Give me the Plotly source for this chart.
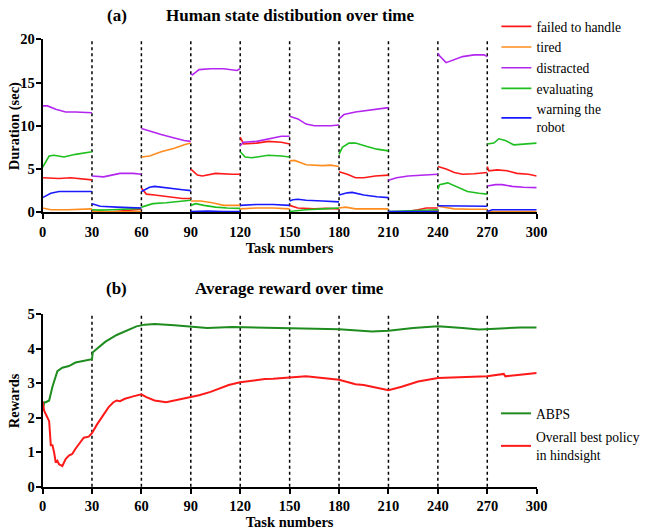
import plotly.graph_objects as go

# ---------------- data ----------------
phase_bounds = [30, 60, 90, 120, 150, 180, 210, 240, 270]
x_ticks = [0, 30, 60, 90, 120, 150, 180, 210, 240, 270, 300]
dur_ticks = [0, 5, 10, 15, 20]
reward_ticks = [0, 1, 2, 3, 4, 5]

# (a) Human state durations, one list of (task, seconds) per 30-task phase
failed_to_handle = [
    [(0, 4.0), (5, 3.95), (10, 3.9), (17, 4.0), (25, 3.8), (30, 3.75)],
    [(30, 0.15), (35, 0.05), (42, 0.05), (48, 0.15), (54, 0.3), (60, 0.35)],
    [(60, 2.8), (63, 2.1), (68, 2.0), (75, 1.8), (85, 1.6), (90, 1.6)],
    [(90, 5.0), (94, 4.3), (97, 4.2), (105, 4.5), (115, 4.4), (120, 4.4)],
    [(120, 8.7), (122, 7.9), (130, 8.0), (137, 8.2), (145, 8.1), (150, 7.9)],
    [(150, 0.8), (155, 0.5), (165, 0.4), (172, 0.45), (180, 0.4)],
    [(180, 4.7), (185, 4.4), (190, 4.0), (195, 4.0), (202, 4.2), (210, 4.3)],
    [(210, 0.05), (220, 0.05), (228, 0.3), (233, 0.5), (240, 0.5)],
    [(240, 5.3), (245, 5.0), (250, 4.6), (255, 4.4), (262, 4.45), (270, 4.6)],
    [(270, 5.3), (271, 4.8), (276, 4.9), (282, 4.8), (288, 4.5), (295, 4.4), (300, 4.2)],
]
tired = [
    [(0, 0.5), (5, 0.3), (15, 0.3), (25, 0.4), (30, 0.4)],
    [(30, 0.1), (40, 0.05), (50, 0.05), (60, 0.1)],
    [(60, 6.4), (65, 6.5), (72, 7.0), (80, 7.4), (86, 7.8), (90, 8.0)],
    [(90, 1.3), (96, 1.3), (103, 1.1), (110, 0.8), (120, 0.8)],
    [(120, 0.4), (130, 0.5), (140, 0.5), (150, 0.4)],
    [(150, 5.95), (153, 6.0), (160, 5.5), (170, 5.4), (175, 5.45), (180, 5.3)],
    [(180, 0.5), (184, 0.6), (190, 0.4), (200, 0.4), (210, 0.4)],
    [(210, 0.05), (225, 0.05), (235, 0.15), (240, 0.2)],
    [(240, 0.7), (250, 0.4), (260, 0.35), (270, 0.35)],
    [(270, 0.1), (285, 0.1), (300, 0.1)],
]
distracted = [
    [(0, 12.3), (3, 12.3), (8, 11.9), (14, 11.6), (20, 11.6), (30, 11.5)],
    [(30, 4.2), (37, 4.1), (42, 4.3), (47, 4.5), (55, 4.5), (60, 4.4)],
    [(60, 9.7), (65, 9.4), (72, 9.0), (80, 8.6), (86, 8.3), (90, 8.2)],
    [(90, 16.0), (91, 15.9), (95, 16.5), (102, 16.6), (110, 16.6), (118, 16.4), (120, 16.6)],
    [(120, 7.7), (122, 8.1), (130, 8.2), (138, 8.5), (145, 8.8), (150, 8.8)],
    [(150, 11.1), (155, 10.8), (160, 10.2), (165, 10.0), (175, 10.0), (180, 10.1)],
    [(180, 10.8), (183, 11.3), (190, 11.6), (197, 11.8), (205, 12.0), (210, 12.1)],
    [(210, 3.7), (215, 4.0), (222, 4.2), (230, 4.3), (240, 4.4)],
    [(240, 18.4), (241, 18.1), (245, 17.3), (248, 17.5), (255, 18.0), (262, 18.2), (268, 18.2), (270, 18.0)],
    [(270, 3.05), (275, 3.2), (279, 3.2), (285, 3.0), (292, 2.9), (300, 2.85)],
]
evaluating = [
    [(0, 5.2), (4, 6.5), (7, 6.6), (13, 6.4), (20, 6.7), (30, 7.0)],
    [(30, 0.3), (35, 0.25), (42, 0.3), (48, 0.35), (55, 0.4), (60, 0.45)],
    [(60, 0.6), (63, 0.8), (67, 1.0), (75, 1.1), (85, 1.3), (90, 1.4)],
    [(90, 0.8), (93, 1.0), (98, 0.8), (105, 0.6), (112, 0.5), (120, 0.45)],
    [(120, 7.0), (123, 6.4), (127, 6.3), (137, 6.6), (145, 6.5), (150, 6.4)],
    [(150, 0.1), (160, 0.3), (170, 0.4), (180, 0.5)],
    [(180, 6.7), (182, 7.5), (186, 8.0), (190, 8.0), (197, 7.6), (203, 7.3), (210, 7.1)],
    [(210, 0.1), (220, 0.15), (230, 0.2), (240, 0.3)],
    [(240, 2.65), (241, 3.2), (246, 3.4), (252, 2.9), (258, 2.4), (265, 2.2), (270, 2.1)],
    [(270, 7.9), (274, 8.0), (277, 8.5), (281, 8.3), (286, 7.8), (292, 7.9), (300, 8.0)],
]
warning_the_robot = [
    [(0, 1.7), (5, 2.2), (10, 2.4), (20, 2.4), (30, 2.4)],
    [(30, 1.0), (35, 0.7), (45, 0.6), (55, 0.5), (60, 0.5)],
    [(60, 2.4), (65, 2.9), (68, 3.0), (75, 2.8), (85, 2.6), (90, 2.5)],
    [(90, 0.1), (100, 0.15), (110, 0.1), (120, 0.1)],
    [(120, 0.8), (130, 0.9), (140, 0.9), (150, 0.8)],
    [(150, 1.3), (152, 1.45), (155, 1.5), (160, 1.4), (170, 1.3), (180, 1.2)],
    [(180, 2.0), (185, 2.25), (188, 2.3), (195, 2.0), (203, 1.8), (210, 1.7)],
    [(210, 0.1), (225, 0.1), (240, 0.1)],
    [(240, 0.75), (255, 0.7), (270, 0.7)],
    [(270, 0.1), (273, 0.3), (285, 0.3), (300, 0.3)],
]

# (b) Average reward
abps_task = [0, 1, 2, 4, 6, 9, 12, 16, 20, 25, 30, 30.5, 38, 45, 52, 57, 62, 68, 80, 90,
             100, 115, 130, 150, 165, 180, 200, 210, 225, 240, 255, 265, 275, 290, 300]
abps_reward = [2.2, 2.45, 2.45, 2.5, 2.9, 3.35, 3.45, 3.5, 3.6, 3.65, 3.7, 3.9, 4.2, 4.4, 4.55,
               4.65, 4.7, 4.72, 4.68, 4.63, 4.6, 4.63, 4.62, 4.6, 4.58, 4.57, 4.5, 4.52, 4.6,
               4.65, 4.6, 4.56, 4.58, 4.62, 4.62]
best_task = [0, 1, 3, 4, 5, 6, 7, 8, 9, 10, 12, 14, 16, 18, 20, 23, 25, 28, 30, 33, 36, 40,
             43, 45, 47, 50, 55, 60, 63, 68, 75, 80, 88, 95, 102, 108, 113, 120, 128, 135,
             140, 145, 150, 160, 170, 180, 190, 195, 200, 210, 218, 228, 240, 255, 270, 280,
             281, 290, 300]
best_reward = [2.47, 2.2, 2.0, 1.9, 1.2, 1.2, 1.0, 0.7, 0.75, 0.65, 0.6, 0.8, 0.9, 0.95, 1.1,
               1.3, 1.42, 1.45, 1.55, 1.8, 2.0, 2.3, 2.45, 2.5, 2.48, 2.55, 2.62, 2.68, 2.6,
               2.5, 2.45, 2.5, 2.58, 2.65, 2.75, 2.85, 2.95, 3.03, 3.08, 3.12, 3.13, 3.15,
               3.17, 3.2, 3.15, 3.1, 2.97, 2.95, 2.9, 2.8, 2.9, 3.05, 3.15, 3.17, 3.2, 3.27,
               3.2, 3.25, 3.3]

state_series = [
    ("failed to handle", failed_to_handle, "#FF1A1A"),
    ("tired", tired, "#FF8C1F"),
    ("distracted", distracted, "#B326F0"),
    ("evaluating", evaluating, "#1FBF1F"),
    ("warning the<br>robot", warning_the_robot, "#1A1AFF"),
]

# ---------------- figure ----------------
W, H = 645, 531
FONT = "Liberation Serif"


def px_x(p):
    return p / W


def px_y(p):
    return 1 - p / H


fig = go.Figure()

for name, segs, col in state_series:
    xs, ys = [], []
    for seg in segs:
        for t, v in seg:
            xs.append(t)
            ys.append(v)
        xs.append(None)
        ys.append(None)
    fig.add_trace(go.Scatter(x=xs, y=ys, mode="lines", name=name,
                             line=dict(color=col, width=1.6),
                             connectgaps=False, xaxis="x", yaxis="y",
                             legend="legend"))

fig.add_trace(go.Scatter(x=abps_task, y=abps_reward, mode="lines", name="ABPS",
                         line=dict(color="#1E8C1E", width=2),
                         xaxis="x2", yaxis="y2", legend="legend2", legendgroup="a"))
fig.add_trace(go.Scatter(x=best_task, y=best_reward, mode="lines",
                         name="Overall best policy<br>in hindsight",
                         line=dict(color="#FF1A1A", width=2),
                         xaxis="x2", yaxis="y2", legend="legend2", legendgroup="b"))

xdom = [px_x(43.3), px_x(546)]
top_dom = [px_y(212.3), px_y(39.3)]
bot_dom = [px_y(486.7), px_y(314.3)]

axis_common = dict(showgrid=False, zeroline=False, showline=True, linecolor="black",
                   linewidth=2, ticks="outside", ticklen=5, tickwidth=2, tickcolor="black",
                   automargin=False,
                   tickfont=dict(family=FONT, size=14.5, color="black", weight="bold"))
title_font = dict(family=FONT, size=14.5, color="black")

fig.update_layout(
    template="none",
    width=W, height=H,
    margin=dict(l=0, r=0, t=0, b=0, pad=0),
    paper_bgcolor="white", plot_bgcolor="white",
    font=dict(family=FONT, color="black"),
    xaxis=dict(domain=xdom, range=[0, 300], tickvals=x_ticks, anchor="y",
               title=dict(text="<b>Task numbers</b>", font=title_font, standoff=2),
               **axis_common),
    yaxis=dict(domain=top_dom, range=[0, 20], tickvals=dur_ticks, anchor="x",
               ticklabelstandoff=-2, **axis_common),
    xaxis2=dict(domain=xdom, range=[0, 300], tickvals=x_ticks, anchor="y2",
                title=dict(text="<b>Task numbers</b>", font=title_font, standoff=2),
                **axis_common),
    yaxis2=dict(domain=bot_dom, range=[0, 5], tickvals=reward_ticks, anchor="x2",
                ticklabelstandoff=-2, **axis_common),
    legend=dict(x=px_x(505), y=px_y(11), xanchor="left", yanchor="top",
                font=dict(family=FONT, size=13.6, color="black"), itemwidth=30,
                bgcolor="rgba(0,0,0,0)", tracegroupgap=0),
    legend2=dict(x=px_x(505), y=px_y(398), xanchor="left", yanchor="top",
                 font=dict(family=FONT, size=13.6, color="black"), itemwidth=30,
                 bgcolor="rgba(0,0,0,0)", tracegroupgap=3, traceorder="grouped"),
    showlegend=True,
)

shapes = []
for b in phase_bounds:
    shapes.append(dict(type="line", xref="x", yref="y domain", x0=b, x1=b, y0=0, y1=1,
                       line=dict(color="black", width=1.5, dash="dot"), layer="below"))
    shapes.append(dict(type="line", xref="x2", yref="y2 domain", x0=b, x1=b, y0=0, y1=1,
                       line=dict(color="black", width=1.5, dash="dot"), layer="below"))
fig.update_layout(shapes=shapes)

ann_font = dict(family=FONT, size=17, color="black")
annotations = [
    dict(text="<b>(a)</b>", x=px_x(119), y=px_y(16), font=ann_font),
    dict(text="<b>Human state distibution over time</b>", x=px_x(296), y=px_y(16),
         font=ann_font),
    dict(text="<b>(b)</b>", x=px_x(119), y=px_y(288), font=ann_font),
    dict(text="<b>Average reward over time</b>", x=px_x(295), y=px_y(288), font=ann_font),
    dict(text="<b>Duration (sec)</b>", x=px_x(14.5), y=px_y(126), textangle=-90,
         font=title_font),
    dict(text="<b>Rewards</b>", x=px_x(14), y=px_y(400.5), textangle=-90,
         font=title_font),
]
for a in annotations:
    a.update(xref="paper", yref="paper", showarrow=False, xanchor="center",
             yanchor="middle")
fig.update_layout(annotations=annotations)

# the page body's default margin would push the figure off the window corner
fig.write_html("out.html", config={"displayModeBar": False},
               post_script="document.body.style.margin='0';")
